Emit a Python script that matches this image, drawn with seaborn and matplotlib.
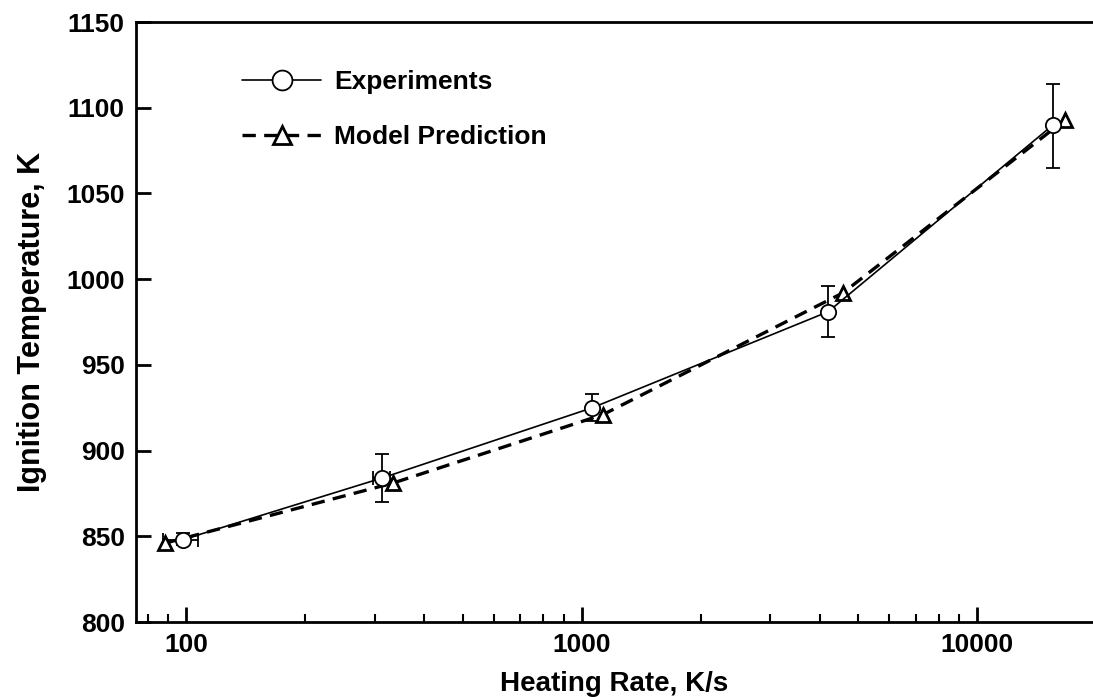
import numpy as np
import pandas as pd
import matplotlib
matplotlib.use("Agg")
import matplotlib.pyplot as plt
import seaborn as sns
from matplotlib.ticker import LogLocator, FixedLocator, NullFormatter

# heating rate (K/s) and ignition temperature (K)
exp_rate = [98, 313, 1065, 4200, 15560]
exp_temp = [848, 884, 925, 981, 1090]
exp_err_lo = [3, 14, 8, 15, 25]
exp_err_hi = [4, 14, 8, 15, 24]
exp_rate_lo = [87.5, 297, 1065, 4200, 15560]
exp_rate_hi = [107, 328, 1065, 4200, 15560]

model_rate = [88.5, 333, 1133, 4580, 16690]
model_temp = [846, 881, 921, 992, 1093]

sns.set_style("ticks")
plt.rcParams['font.family'] = ['Liberation Sans', 'DejaVu Sans']
plt.rcParams['font.weight'] = 'bold'
plt.rcParams['text.color'] = 'black'
plt.rcParams['axes.labelcolor'] = 'black'
plt.rcParams['xtick.color'] = 'black'
plt.rcParams['ytick.color'] = 'black'
plt.rcParams['axes.edgecolor'] = 'black'

fig = plt.figure(figsize=(10.93, 6.97), dpi=100)
ax = fig.add_axes([0.1244, 0.1076, 0.8756, 0.8608])
ax.set_xscale('log')

exp_df = pd.DataFrame({'rate': exp_rate, 'temp': exp_temp})
mod_df = pd.DataFrame({'rate': model_rate, 'temp': model_temp})

# error bars
xerr = [np.array(exp_rate) - np.array(exp_rate_lo), np.array(exp_rate_hi) - np.array(exp_rate)]
ax.errorbar(exp_rate, exp_temp, yerr=[exp_err_lo, exp_err_hi], xerr=xerr, fmt='none',
            ecolor='black', elinewidth=1.3, capsize=5, capthick=1.3, zorder=2)

sns.lineplot(data=mod_df, x='rate', y='temp', ax=ax, color='black', linestyle=(0, (4, 2.5)),
             linewidth=2.4, marker='^', markersize=10, markerfacecolor='white',
             markeredgecolor='black', markeredgewidth=2, zorder=3, label='Model Prediction')
sns.lineplot(data=exp_df, x='rate', y='temp', ax=ax, color='black', linewidth=1.2,
             marker='o', markersize=11, markerfacecolor='white', markeredgecolor='black',
             markeredgewidth=1.3, zorder=4, label='Experiments')

ax.set_xlim(74.7, 19630)
ax.set_ylim(800, 1150)
ax.yaxis.set_major_locator(FixedLocator(np.arange(800, 1151, 50)))
ax.xaxis.set_major_locator(FixedLocator([100, 1000, 10000]))
ax.xaxis.set_minor_locator(LogLocator(base=10, subs=np.arange(2, 10)))
ax.xaxis.set_minor_formatter(NullFormatter())
ax.set_xticklabels(['100', '1000', '10000'])

ax.tick_params(axis='both', which='major', direction='in', length=11, width=2,
               labelsize=19, pad=8, colors='black')
ax.tick_params(axis='x', which='minor', direction='in', length=6, width=1.5)
for lab in ax.get_xticklabels() + ax.get_yticklabels():
    lab.set_fontweight('bold')

for s in ['left', 'bottom', 'top']:
    ax.spines[s].set_linewidth(2)
ax.spines['right'].set_visible(False)

ax.set_xlabel('Heating Rate, K/s', fontsize=20, fontweight='bold', labelpad=10)
ax.set_ylabel('Ignition Temperature, K', fontsize=22, fontweight='bold', labelpad=14)

handles, labels = ax.get_legend_handles_labels()
order = [labels.index('Experiments'), labels.index('Model Prediction')]
leg = ax.legend([handles[i] for i in order], [labels[i] for i in order], loc='upper left',
                bbox_to_anchor=(0.086, 0.96), frameon=False, handlelength=3.0,
                prop={'weight': 'bold', 'size': 19}, labelspacing=1.2, handletextpad=0.5,
                markerscale=1.3)

fig.savefig('out.png', dpi=100)
